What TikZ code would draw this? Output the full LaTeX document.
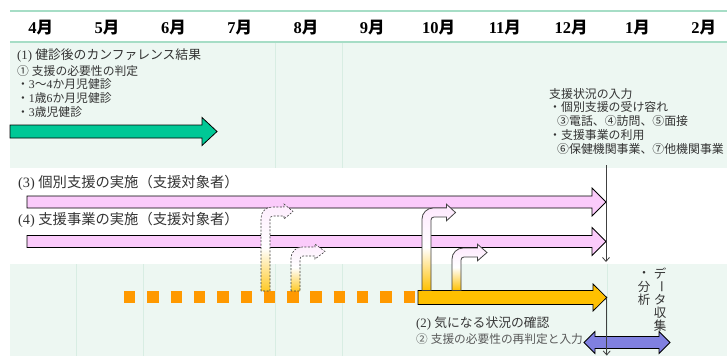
\documentclass[tikz,border=0pt]{standalone}
\usepackage{fontspec}
\setmainfont{Liberation Serif}
\newfontfamily\jp{Noto Sans CJK JP}
\usetikzlibrary{arrows.meta}
\definecolor{panelc}{HTML}{EDF7F2}
\definecolor{hlinec}{HTML}{A6DDC6}
\definecolor{gridc}{HTML}{D8EDE3}
\definecolor{greenc}{HTML}{00C896}
\definecolor{pinkc}{HTML}{FBCBFB}
\definecolor{orangec}{HTML}{FFC000}
\definecolor{dotc}{HTML}{FF9900}
\definecolor{bluec}{HTML}{8080E0}
\definecolor{txtc}{HTML}{333333}
\definecolor{linec}{HTML}{404040}
\newcommand\fsz[1]{\fontsize{#1bp}{#1bp}\selectfont}
% horizontal block arrow: style, x-start, head base, tip, y-center, shaft half, head half
\newcommand\blockarrow[7]{%
  \path[#1] (#2,{#5-#6}) -- (#3,{#5-#6}) -- (#3,{#5-#7}) -- (#4,#5) -- (#3,{#5+#7}) -- (#3,{#5+#6}) -- (#2,{#5+#6}) -- cycle;}
% bent (up then right) arrow: style, L, bottom, y-center, head base, tip, head half
\newcommand\bentarrow[7]{%
  \path[#1] (#2,#3) -- (#2,{#4-4.5+11}) .. controls (#2,{#4-4.5+5}) and ({#2+5},{#4-4.5}) .. ({#2+11},{#4-4.5})
    -- (#5,{#4-4.5}) -- (#5,{#4-#7}) -- (#6,#4) -- (#5,{#4+#7}) -- (#5,{#4+4.5})
    -- ({#2+12},{#4+4.5}) .. controls ({#2+10.3},{#4+4.5}) and ({#2+9},{#4+5.8}) .. ({#2+9},{#4+7.5})
    -- ({#2+9},#3) -- cycle;}
\begin{document}
\begin{tikzpicture}[x=1bp,y=-1bp,
  panel/.style={fill=panelc,draw=none},
  gridline/.style={draw=gridc,line width=0.7bp},
  hline/.style={draw=hlinec,line width=1.3bp},
  month/.style={inner sep=0,font=\bfseries\fsz{16.5},text=black},
  lbl/.style={inner sep=0,anchor=west,text=txtc},
  vt/.style={inner sep=0,text=txtc,font=\jp\fsz{12.5}},
  barshape/.style={draw=black,line width=0.8bp,line join=miter},
  bentsolid/.style={draw=linec,line width=0.8bp,top color=pinkc!45!white,bottom color=orangec,middle color=white},
  bentdash/.style={draw=linec,line width=0.6bp,dash pattern=on 2bp off 1.5bp,top color=pinkc!35!white,bottom color=orangec!85!white,middle color=white},
  conn/.style={draw=linec,line width=0.8bp,-{Straight Barb[length=4bp,width=7bp]}}]
\useasboundingbox (0,0) rectangle (727,356);
% panels
\path[panel] (10,42) rectangle (727,168);
\path[panel] (10,264) rectangle (727,356);
% grid lines
\foreach \gx in {275.7,342} {\draw[gridline] (\gx,42) -- (\gx,168);}
\foreach \gx in {76.8,143.1,275.7,342,607.2} {\draw[gridline] (\gx,264) -- (\gx,356);}
% header
\draw[hline] (10,11) -- (727,11);
\draw[hline] (10,42) -- (727,42);
\node[month] (m4) at (40.8,28) {4{\jp 月}};
\node[month] (m5) at (107.1,28) {5{\jp 月}};
\node[month] (m6) at (173.4,28) {6{\jp 月}};
\node[month] (m7) at (239.7,28) {7{\jp 月}};
\node[month] (m8) at (306,28) {8{\jp 月}};
\node[month] (m9) at (372.3,28) {9{\jp 月}};
\node[month] (m10) at (438.6,28) {10{\jp 月}};
\node[month] (m11) at (504.9,28) {11{\jp 月}};
\node[month] (m12) at (571.2,28) {12{\jp 月}};
\node[month] (m1) at (637.5,28) {1{\jp 月}};
\node[month] (m2) at (703.8,28) {2{\jp 月}};
% (1) block
\node[lbl,font=\fsz{12.8}] (t1a) at (17,55) {(1) {\jp 健診後のカンファレンス結果}};
\node[lbl,font=\fsz{11.8}] (t1b) at (17,71) {{\jp ①} {\jp 支援の必要性の判定}};
\node[lbl,font=\fsz{11.8}] (t1c) at (17,84) {{\jp ・}3{\jp 〜}4{\jp か月児健診}};
\node[lbl,font=\fsz{11.8}] (t1d) at (17,98) {{\jp ・}1{\jp 歳}6{\jp か月児健診}};
\node[lbl,font=\fsz{11.8}] (t1e) at (17,112) {{\jp ・}3{\jp 歳児健診}};
\blockarrow{barshape,fill=greenc}{10}{202}{217}{131.5}{6.5}{14}
% right text block
\node[lbl,font=\jp\fsz{11.9}] (r1) at (549,93.5) {支援状況の入力};
\node[lbl,font=\jp\fsz{11.9}] (r2) at (549,107) {・個別支援の受け容れ};
\node[lbl,font=\jp\fsz{11.9}] (r3) at (557,121) {③電話、④訪問、⑤面接};
\node[lbl,font=\jp\fsz{11.9}] (r4) at (549,135) {・支援事業の利用};
\node[lbl,font=\jp\fsz{11.9}] (r5) at (557,148.5) {⑥保健機関事業、⑦他機関事業};
% (3) (4) labels and bars
\node[lbl,font=\fsz{14.3}] (t3) at (18,183) {(3) {\jp 個別支援の実施（支援対象者）}};
\node[lbl,font=\fsz{14.3}] (t4) at (18,220) {(4) {\jp 支援事業の実施（支援対象者）}};
\blockarrow{barshape,fill=pinkc}{27}{592}{606}{202}{6}{14}
\blockarrow{barshape,fill=pinkc}{27}{592}{606}{241.5}{6}{14}
% orange dots
\draw[dotc,line width=11.4bp,dash pattern=on 11.4bp off 11.9bp] (124,297) -- (415.5,297);
% dashed bent arrows
\bentarrow{bentdash}{261}{291}{211.5}{284}{293}{7.5}
\bentarrow{bentdash}{291}{291}{251.5}{315}{325}{7.5}
% orange arrow
\blockarrow{barshape,fill=orangec}{418}{593}{606.7}{297.5}{7}{13.5}
% solid bent arrows
\bentarrow{bentsolid}{422}{290.5}{212.5}{446.5}{455.5}{8.3}
\bentarrow{bentsolid}{452}{290.5}{252.5}{477.5}{487}{8.3}
% bottom text
\node[lbl,font=\fsz{12.8},text=black!78] (t2a) at (416,323) {(2) {\jp 気になる状況の確認}};
\node[lbl,font=\fsz{11.7},text=black!65] (t2b) at (416,339) {{\jp ②} {\jp 支援の必要性の再判定と入力}};
% vertical text
\node[vt] (c1) at (660,274) {デ};
\node[vt,rotate=-90] (c2) at (660,287) {ー};
\node[vt] (c3) at (660,300) {タ};
\node[vt] (c4) at (660,313) {収};
\node[vt] (c5) at (660,326) {集};
\node[vt] (c6) at (644,274) {・};
\node[vt] (c7) at (644,287) {分};
\node[vt] (c8) at (644,300) {析};
% blue double arrow
\path[barshape,fill=bluec] (584,342.5) -- (595,331.5) -- (595,336.5) -- (659,336.5) -- (659,331.5) -- (670,342.5) -- (659,353.5) -- (659,348.5) -- (595,348.5) -- (595,353.5) -- cycle;
% connectors
\coordinate (vtop) at (606,165);
\coordinate (vbot) at (606,262);
\coordinate (otip) at (606.7,297.5);
\coordinate (vend) at (606.7,355.5);
\draw[conn] (vtop) -- (vbot);
\draw[conn] (otip) -- (vend);
\end{tikzpicture}
\end{document}
